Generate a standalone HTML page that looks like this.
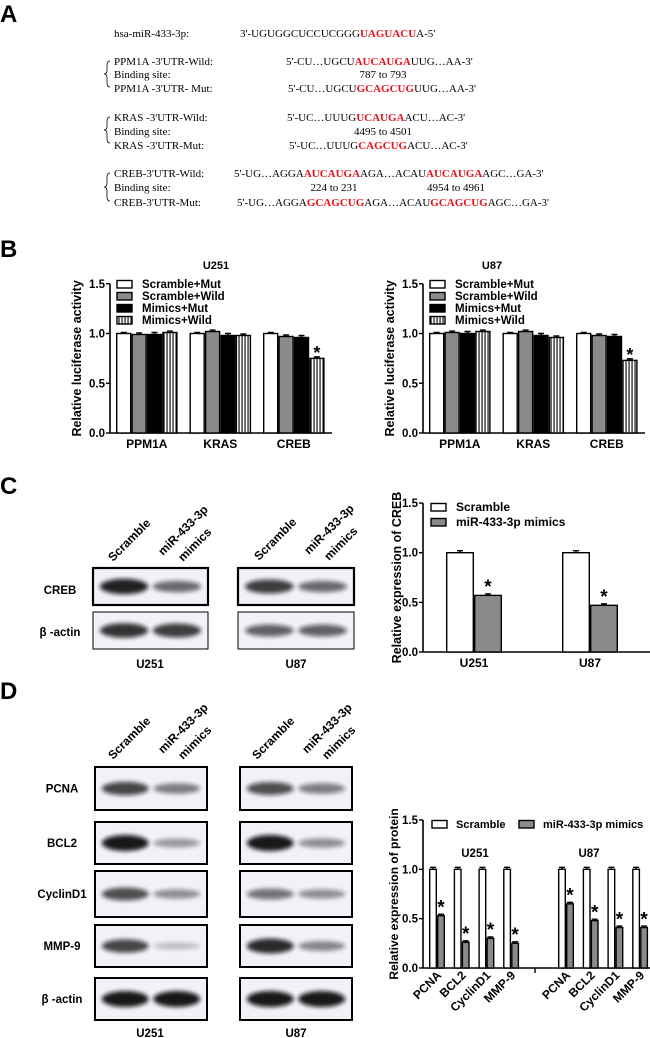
<!DOCTYPE html>
<html><head><meta charset="utf-8">
<style>
html,body{margin:0;padding:0;background:#fff;}
svg{display:block;}
.pl{font:bold 24px "Liberation Sans",sans-serif;}
.seq{font:11px "Liberation Serif",serif;fill:#000;}
.red{fill:#e8101a;font-weight:bold;}
.b{font-family:"Liberation Sans",sans-serif;font-weight:bold;fill:#000;}
</style></head>
<body>
<svg id="fig" width="650" height="1038" viewBox="0 0 650 1038" xmlns="http://www.w3.org/2000/svg">
<defs>
<pattern id="stripes" width="3" height="4" patternUnits="userSpaceOnUse"><rect width="3" height="4" fill="#fff"/><rect x="1.5" width="1.1" height="4" fill="#000"/></pattern>
<filter id="blur" x="-30%" y="-80%" width="160%" height="260%"><feGaussianBlur stdDeviation="2.2"/></filter>
</defs>

<g>
<text class="pl" x="0" y="22">A</text>
<text class="seq" x="114" y="37">hsa-miR-433-3p:</text>
<text class="seq" x="240" y="37">3'-UGUGGCUCCUCGGG<tspan class="red">UAGUACU</tspan>A-5'</text>

<path d="M110,61 q-3,0 -3,4 v5 q0,4 -3,4 q3,0 3,4 v5 q0,4 3,4" fill="none" stroke="#000" stroke-width="0.8"/>
<text class="seq" x="114" y="65">PPM1A -3'UTR-Wild:</text>
<text class="seq" x="286" y="65">5'-CU…UGCU<tspan class="red">AUCAUGA</tspan>UUG…AA-3'</text>
<text class="seq" x="114" y="78">Binding site:</text>
<text class="seq" x="383" y="78" text-anchor="middle">787 to 793</text>
<text class="seq" x="114" y="92">PPM1A -3'UTR- Mut:</text>
<text class="seq" x="288" y="92">5'-CU…UGCU<tspan class="red">GCAGCUG</tspan>UUG…AA-3'</text>

<path d="M110,117 q-3,0 -3,4 v5 q0,4 -3,4 q3,0 3,4 v5 q0,4 3,4" fill="none" stroke="#000" stroke-width="0.8"/>
<text class="seq" x="114" y="121">KRAS -3'UTR-Wild:</text>
<text class="seq" x="287" y="121">5'-UC…UUUG<tspan class="red">UCAUGA</tspan>ACU…AC-3'</text>
<text class="seq" x="114" y="135">Binding site:</text>
<text class="seq" x="383" y="135" text-anchor="middle">4495 to 4501</text>
<text class="seq" x="114" y="149">KRAS -3'UTR-Mut:</text>
<text class="seq" x="289" y="149">5'-UC…UUUG<tspan class="red">CAGCUG</tspan>ACU…AC-3'</text>

<path d="M110,173 q-3,0 -3,4 v6 q0,4 -3,4 q3,0 3,4 v6 q0,4 3,4" fill="none" stroke="#000" stroke-width="0.8"/>
<text class="seq" x="114" y="177">CREB-3'UTR-Wild:</text>
<text class="seq" x="234" y="177">5'-UG…AGGA<tspan class="red">AUCAUGA</tspan>AGA…ACAU<tspan class="red">AUCAUGA</tspan>AGC…GA-3'</text>
<text class="seq" x="114" y="191">Binding site:</text>
<text class="seq" x="334" y="191" text-anchor="middle">224 to 231</text>
<text class="seq" x="456" y="191" text-anchor="middle">4954 to 4961</text>
<text class="seq" x="114" y="206">CREB-3'UTR-Mut:</text>
<text class="seq" x="237" y="206">5'-UG…AGGA<tspan class="red">GCAGCUG</tspan>AGA…ACAU<tspan class="red">GCAGCUG</tspan>AGC…GA-3'</text>
</g>

<text class="pl" x="0" y="257">B</text>
<text class="pl" x="0" y="494">C</text>
<text class="pl" x="0" y="699">D</text>

<g id="charts"></g>
<g id="blots"></g>
</svg>

<script>
// ---------- DATA ----------
const bCategories = ["PPM1A", "KRAS", "CREB"];
const bSeriesNames = ["Scramble+Mut", "Scramble+Wild", "Mimics+Mut", "Mimics+Wild"];
const bU251ScrambleMut = [1.00, 1.00, 1.00];
const bU251ScrambleWild = [0.99, 1.02, 0.97];
const bU251MimicsMut = [0.99, 0.98, 0.96];
const bU251MimicsWild = [1.01, 0.98, 0.75];
const bU87ScrambleMut = [1.00, 1.00, 1.00];
const bU87ScrambleWild = [1.01, 1.02, 0.98];
const bU87MimicsMut = [1.00, 0.98, 0.97];
const bU87MimicsWild = [1.02, 0.96, 0.73];
const bErr = [0.01, 0.015, 0.02, 0.015];

const cCategories = ["U251", "U87"];
const cScramble = [1.00, 1.00];
const cMimics = [0.57, 0.47];

const dProteins = ["PCNA", "BCL2", "CyclinD1", "MMP-9"];
const dGroups = ["U251", "U87"];
const dU251Scramble = [1.00, 1.00, 1.00, 1.00];
const dU251Mimics = [0.53, 0.26, 0.30, 0.25];
const dU87Scramble = [1.00, 1.00, 1.00, 1.00];
const dU87Mimics = [0.65, 0.48, 0.41, 0.41];

const yTicks = [0, 0.5, 1.0, 1.5];
const yTickLabels = ["0.0", "0.5", "1.0", "1.5"];

// ---------- HELPERS ----------
const NS = "http://www.w3.org/2000/svg";
const charts = document.getElementById("charts");
function mk(tag, attrs, parent) {
  const e = document.createElementNS(NS, tag);
  for (const k in attrs) e.setAttribute(k, attrs[k]);
  (parent || charts).appendChild(e);
  return e;
}
function txt(s, attrs, parent) { const e = mk("text", attrs, parent); e.textContent = s; return e; }

function yAxis(g, ax, y0, unit, title, titleX, titleSize) {
  const yScale = v => y0 - v * unit;
  const line = mk("line", {x1: ax, x2: ax, y1: yScale(1.5), y2: y0, stroke: "#000", "stroke-width": 1.6}, g);
  
  
  yTicks.forEach((t, i) => {
    const tk = mk("line", {x1: ax - 4, x2: ax, y1: yScale(t), y2: yScale(t), stroke: "#000", "stroke-width": 1.4}, g);
    
    
    const tl = txt(yTickLabels[i], {x: ax - 5, y: yScale(t) + 4, "text-anchor": "end", class: "b", "font-size": 11.5}, g);
    
    
  });
  const cy = (yScale(1.5) + y0) / 2;
  const tt = txt(title, {x: titleX, y: cy, "text-anchor": "middle", class: "b", "font-size": titleSize, transform: `rotate(-90 ${titleX} ${cy})`}, g);
  
  
  return yScale;
}
function bar(g, x, w, v, yScale, fill, err, name) {
  const y = yScale(v);
  const eb = mk("path", {d: `M${x + w/2},${y} V${yScale(v + err)} M${x + w/2 - 3},${yScale(v + err)} H${x + w/2 + 3}`, stroke: "#000", "stroke-width": 1.4, fill: "none"}, g);
  
  
  const r = mk("rect", {x: x + 0.7, y: y, width: w - 1.4, height: yScale(0) - y, fill: fill, stroke: "#000", "stroke-width": 1.4}, g);
  
  
  return r;
}
function star(g, cx, v, yScale, size) {
  const s = txt("*", {x: cx, y: yScale(v) + size * 0.25, "text-anchor": "middle", class: "b", "font-size": size}, g);
  
  
}
function legendBox(g, x, y, fill, label, tx, fs) {
  const r = mk("rect", {x: x, y: y - 3.5, width: 15, height: 7.5, fill: fill, stroke: "#000", "stroke-width": 1.4}, g);
  
  
  const t = txt(label, {x: tx, y: y + 4, class: "b", "font-size": fs || 11.5}, g);
  
  
}

const fills = ["#fff", "#8a8a8a", "#000", "url(#stripes)"];

// ---------- PANEL B ----------
function chartB(ax, title, titleX, series) {
  const g = mk("g", {});
  
  
  const y0 = 433, unit = 99.5, bw = 15.4, step = 73.5, off = 6;
  const ys = yAxis(g, ax, y0, unit, "Relative luciferase activity", ax - 29, 12.5);
  const xa = mk("line", {x1: ax, x2: ax + 222, y1: y0, y2: y0, stroke: "#000", "stroke-width": 1.6}, g);
  
  
  const tt = txt(title, {x: titleX, y: 269, "text-anchor": "middle", class: "b", "font-size": 11}, g);
  
  
  bCategories.forEach((c, i) => {
    const gx = ax + off + i * step;
    series.forEach((s, k) => bar(g, gx + k * bw, bw, s[i], ys, fills[k], bErr[k], 'bar-' + c.toLowerCase() + '-' + k));
    const l = txt(c, {x: gx + 2 * bw, y: 448, "text-anchor": "middle", class: "b", "font-size": 12}, g);
    
    
  });
  const last = series[3];
  star(g, ax + off + 2 * step + 3.5 * bw, last[2] + 0.04, ys, 18);
  bSeriesNames.forEach((n, k) => legendBox(g, ax + 7, 284 + k * 12, fills[k], n, ax + 32, 11.5));
}
chartB(110, "U251", 216, [bU251ScrambleMut, bU251ScrambleWild, bU251MimicsMut, bU251MimicsWild]);
chartB(423, "U87", 492, [bU87ScrambleMut, bU87ScrambleWild, bU87MimicsMut, bU87MimicsWild]);

// ---------- PANEL C CHART ----------
(function () {
  const g = mk("g", {});
  
  
  const ax = 423, y0 = 652, unit = 99.3, bw = 28, step = 116, off = 23;
  const ys = yAxis(g, ax, y0, unit, "Relative expression of  CREB", 401, 12.5);
  const xa = mk("line", {x1: ax, x2: 650, y1: y0, y2: y0, stroke: "#000", "stroke-width": 1.6}, g);
  
  
  cCategories.forEach((c, i) => {
    const gx = ax + off + i * step;
    bar(g, gx, bw, cScramble[i], ys, "#fff", 0.02, 'bar-scramble-' + c.toLowerCase());
    bar(g, gx + bw, bw, cMimics[i], ys, "#8a8a8a", 0.015, 'bar-mimics-' + c.toLowerCase());
    star(g, gx + 1.5 * bw, cMimics[i] + 0.07, ys, 19);
    const l = txt(c, {x: gx + bw, y: 667, "text-anchor": "middle", class: "b", "font-size": 12}, g);
    
    
  });
  legendBox(g, 431, 507, "#fff", "Scramble", 456, 12);
  legendBox(g, 431, 522, "#8a8a8a", "miR-433-3p mimics", 456, 12);
})();

// ---------- PANEL D CHART ----------
(function () {
  const g = mk("g", {});
  
  
  const ax = 423, y0 = 968, unit = 98.7, bw = 8, step = 24.7, off = 6, gOff = 129;
  const ys = yAxis(g, ax, y0, unit, "Relative expression of  protein", 398, 12);
  const xa = mk("line", {x1: ax, x2: 650, y1: y0, y2: y0, stroke: "#000", "stroke-width": 1.6}, g);
  
  
  const brk = mk("line", {x1: 535, x2: 535, y1: y0, y2: y0 + 5, stroke: "#000", "stroke-width": 1.4}, g);
  
  
  const groupsScr = [dU251Scramble, dU87Scramble], groupsMim = [dU251Mimics, dU87Mimics];
  const titleX = [475, 589];
  dGroups.forEach((grp, gi) => {
    const gt = txt(grp, {x: titleX[gi], y: 857, "text-anchor": "middle", class: "b", "font-size": 11.5}, g);
    
    
    dProteins.forEach((p, i) => {
      const x = ax + off + gi * gOff + i * step;
      bar(g, x, bw, groupsScr[gi][i], ys, "#fff", 0.02, 'bar-scramble-' + grp.toLowerCase() + '-' + p.toLowerCase());
      bar(g, x + bw, bw, groupsMim[gi][i], ys, "#8a8a8a", 0.015, 'bar-mimics-' + grp.toLowerCase() + '-' + p.toLowerCase());
      star(g, x + 1.5 * bw, groupsMim[gi][i] + 0.07, ys, 19);
      const lx = x + bw + 5, ly = 976;
      const l = txt(p, {x: lx, y: ly, "text-anchor": "end", class: "b", "font-size": 12, transform: `rotate(-45 ${lx} ${ly})`}, g);
      
      
    });
  });
  legendBox(g, 432, 824, "#fff", "Scramble", 456, 11);
  legendBox(g, 519, 824, "#8a8a8a", "miR-433-3p mimics", 543, 11);
})();

// ---------- WESTERN BLOTS ----------
const blots = document.getElementById("blots");
function blot(x, y, w, h, i1, i2, name, thick) {
  const g = mk("g", {}, blots);
  
  
  mk("rect", {x: x, y: y, width: w, height: h, fill: "#f1f2f8", stroke: "#000", "stroke-width": thick || 2}, g);
  const cy = y + h / 2;
  [[x + w * 0.27, i1], [x + w * 0.73, i2]].forEach(([cx, v]) => {
    mk("ellipse", {cx: cx, cy: cy, rx: w * 0.21, ry: 3 + v * 5, fill: "#111", opacity: 0.15 + 0.8 * v, filter: "url(#blur)"}, g);
  });
}
function headers(x, y, prefix) {
  const g = mk("g", {}, blots);
  
  
  [["Scramble", x, y], ["miR-433-3p", x + 50, y - 6], ["mimics", x + 70, y]].forEach(([s, tx, ty]) => {
    const t = txt(s, {x: tx, y: ty, class: "b", "font-size": 12, transform: `rotate(-45 ${tx} ${ty})`}, g);
    
    
  });
}
function rowLabel(s, x, y) {
  const t = txt(s, {x: x, y: y, "text-anchor": "middle", class: "b", "font-size": 11.5}, blots);
  
  
}
headers(113, 562, "c-u251"); headers(259, 561, "c-u87");
blot(93, 568, 115, 37, 0.95, 0.55, "blot-c-u251-creb", 2.2);
blot(93, 612, 115, 37, 0.85, 0.8, "blot-c-u251-actin", 1);
blot(238, 568, 116, 37, 0.8, 0.55, "blot-c-u87-creb", 2.2);
blot(238, 612, 116, 37, 0.6, 0.6, "blot-c-u87-actin", 1);
rowLabel("CREB", 60, 594); rowLabel("β -actin", 60, 636);
rowLabel("U251", 150, 668); rowLabel("U87", 296, 668);
headers(113, 760, "d-u251"); headers(257, 760, "d-u87");
const dRows = [["PCNA", 767, 43, 0.75, 0.45, 0.7, 0.45], ["BCL2", 822, 42, 1.0, 0.3, 1.0, 0.35], ["CyclinD1", 871, 46, 0.7, 0.35, 0.5, 0.35], ["MMP-9", 925, 42, 0.75, 0.1, 0.9, 0.4], ["β -actin", 978, 42, 1.0, 1.0, 1.0, 1.0]];
dRows.forEach(([n, y, h, a, b, c, d]) => {
  blot(95, y, 112, h, a, b, "blot-d-u251-" + n.toLowerCase().replace(/[^a-z0-9]/g, ""), 2);
  blot(240, y, 112, h, c, d, "blot-d-u87-" + n.toLowerCase().replace(/[^a-z0-9]/g, ""), 2);
  rowLabel(n, 62, y + h / 2 + 4);
});
rowLabel("U251", 150, 1037); rowLabel("U87", 296, 1037);
</script>
</body></html>
